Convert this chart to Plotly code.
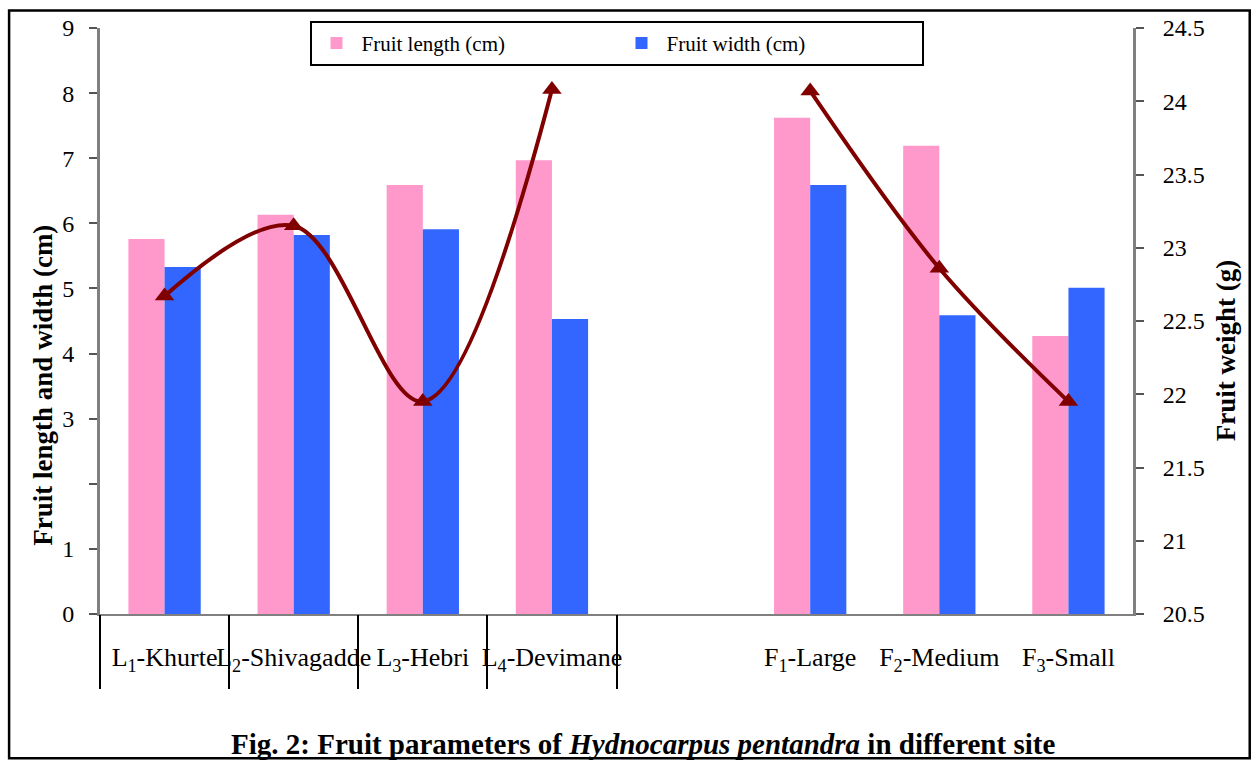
import plotly.graph_objects as go

categories = ["L<sub>1</sub>-Khurte", "L<sub>2</sub>-Shivagadde", "L<sub>3</sub>-Hebri", "L<sub>4</sub>-Devimane",
              "", "F<sub>1</sub>-Large", "F<sub>2</sub>-Medium", "F<sub>3</sub>-Small"]
fruit_length = [5.76, 6.13, 6.59, 6.97, None, 7.62, 7.19, 4.27]
fruit_width = [5.33, 5.82, 5.91, 4.53, None, 6.59, 4.59, 5.01]
fruit_weight = [22.67, 23.15, 21.95, 24.08, None, 24.07, 22.86, 21.95]
left_ticks = [0, 1, 2, 3, 4, 5, 6, 7, 8, 9]
left_ticktext = ["0", "1", "", "3", "4", "5", "6", "7", "8", "9"]
right_ticks = [20.5, 21, 21.5, 22, 22.5, 23, 23.5, 24, 24.5]
boundary_ticks = [-0.5, 0.5, 1.5, 2.5, 3.5]

xs = list(range(len(categories)))
FONT = "Liberation Serif"

fig = go.Figure()
fig.add_trace(go.Bar(x=xs, y=fruit_length, name="Fruit length (cm)",
                     marker=dict(color="#FF99CC", line=dict(width=0))))
fig.add_trace(go.Bar(x=xs, y=fruit_width, name="Fruit width (cm)",
                     marker=dict(color="#3366FF", line=dict(width=0))))
fig.add_trace(go.Scatter(x=xs, y=fruit_weight, yaxis="y2", mode="lines+markers",
                         line=dict(color="#800000", width=4, shape="spline", smoothing=1.0),
                         marker=dict(symbol="triangle-up", size=17, color="#800000"),
                         connectgaps=False, showlegend=False, name="Fruit weight (g)"))
# invisible helper trace for the boundary tick axis
fig.add_trace(go.Scatter(x=boundary_ticks, y=[None]*len(boundary_ticks), xaxis="x2",
                         showlegend=False, hoverinfo="skip"))

fig.update_layout(
    width=1253, height=762,
    margin=dict(l=100, r=120, t=28, b=148, autoexpand=False),
    paper_bgcolor="white", plot_bgcolor="white",
    font=dict(family=FONT, color="black", size=20),
    barmode="group", bargap=0.44, bargroupgap=0,
    xaxis=dict(range=[-0.5, 7.5], tickvals=xs, ticktext=categories, tickangle=0,
               showline=True, linecolor="#808080", linewidth=2, automargin=False,
               ticks="", showgrid=False, zeroline=False,
               tickfont=dict(family=FONT, size=26), ticklabelstandoff=19),
    xaxis2=dict(range=[-0.5, 7.5], overlaying="x", side="bottom", anchor="y",
                tickvals=boundary_ticks, ticks="outside", ticklen=74, tickwidth=2,
                tickcolor="black", showticklabels=False, showgrid=False,
                zeroline=False, showline=False, automargin=False),
    yaxis=dict(range=[0, 9], tickvals=left_ticks, ticktext=left_ticktext,
               showline=True, linecolor="#808080", linewidth=3, automargin=False,
               ticks="outside", ticklen=8, tickcolor="#555555", tickwidth=2,
               showgrid=False, zeroline=False, tickfont=dict(family=FONT, size=24),
               ticklabelstandoff=10),
    yaxis2=dict(range=[20.5, 24.5], tickvals=right_ticks, overlaying="y", side="right",
                showline=True, linecolor="#808080", linewidth=3, automargin=False,
                ticks="outside", ticklen=8, tickcolor="#555555", tickwidth=2,
                showgrid=False, zeroline=False, tickfont=dict(family=FONT, size=24),
                ticklabelstandoff=14),
    legend=dict(orientation="h", x=0.5, xanchor="center", y=1.012, yanchor="top",
                bgcolor="white", bordercolor="black", borderwidth=2,
                font=dict(family=FONT, size=21), entrywidth=250, itemwidth=40),
    annotations=[
        dict(text="<b>Fruit length and width (cm)</b>", textangle=-90,
             xref="paper", yref="paper", x=-0.055, y=0.39, xanchor="center", yanchor="middle",
             showarrow=False, font=dict(family=FONT, size=27)),
        dict(text="<b>Fruit weight (g)</b>", textangle=-90,
             xref="paper", yref="paper", x=1.09, y=0.45, xanchor="center", yanchor="middle",
             showarrow=False, font=dict(family=FONT, size=27)),
        dict(text="<b>Fig. 2: Fruit parameters of <i>Hydnocarpus pentandra</i> in different site</b>",
             xref="paper", yref="paper", x=0.526, y=-0.222, xanchor="center", yanchor="middle",
             showarrow=False, font=dict(family=FONT, size=29)),
    ],
    shapes=[
        dict(type="rect", xref="paper", yref="paper", x0=-0.088, x1=1.113, y0=-0.246, y1=1.03,
             line=dict(color="black", width=2.5), fillcolor="rgba(0,0,0,0)", layer="below"),
    ],
)

fig.write_html("out.html")
